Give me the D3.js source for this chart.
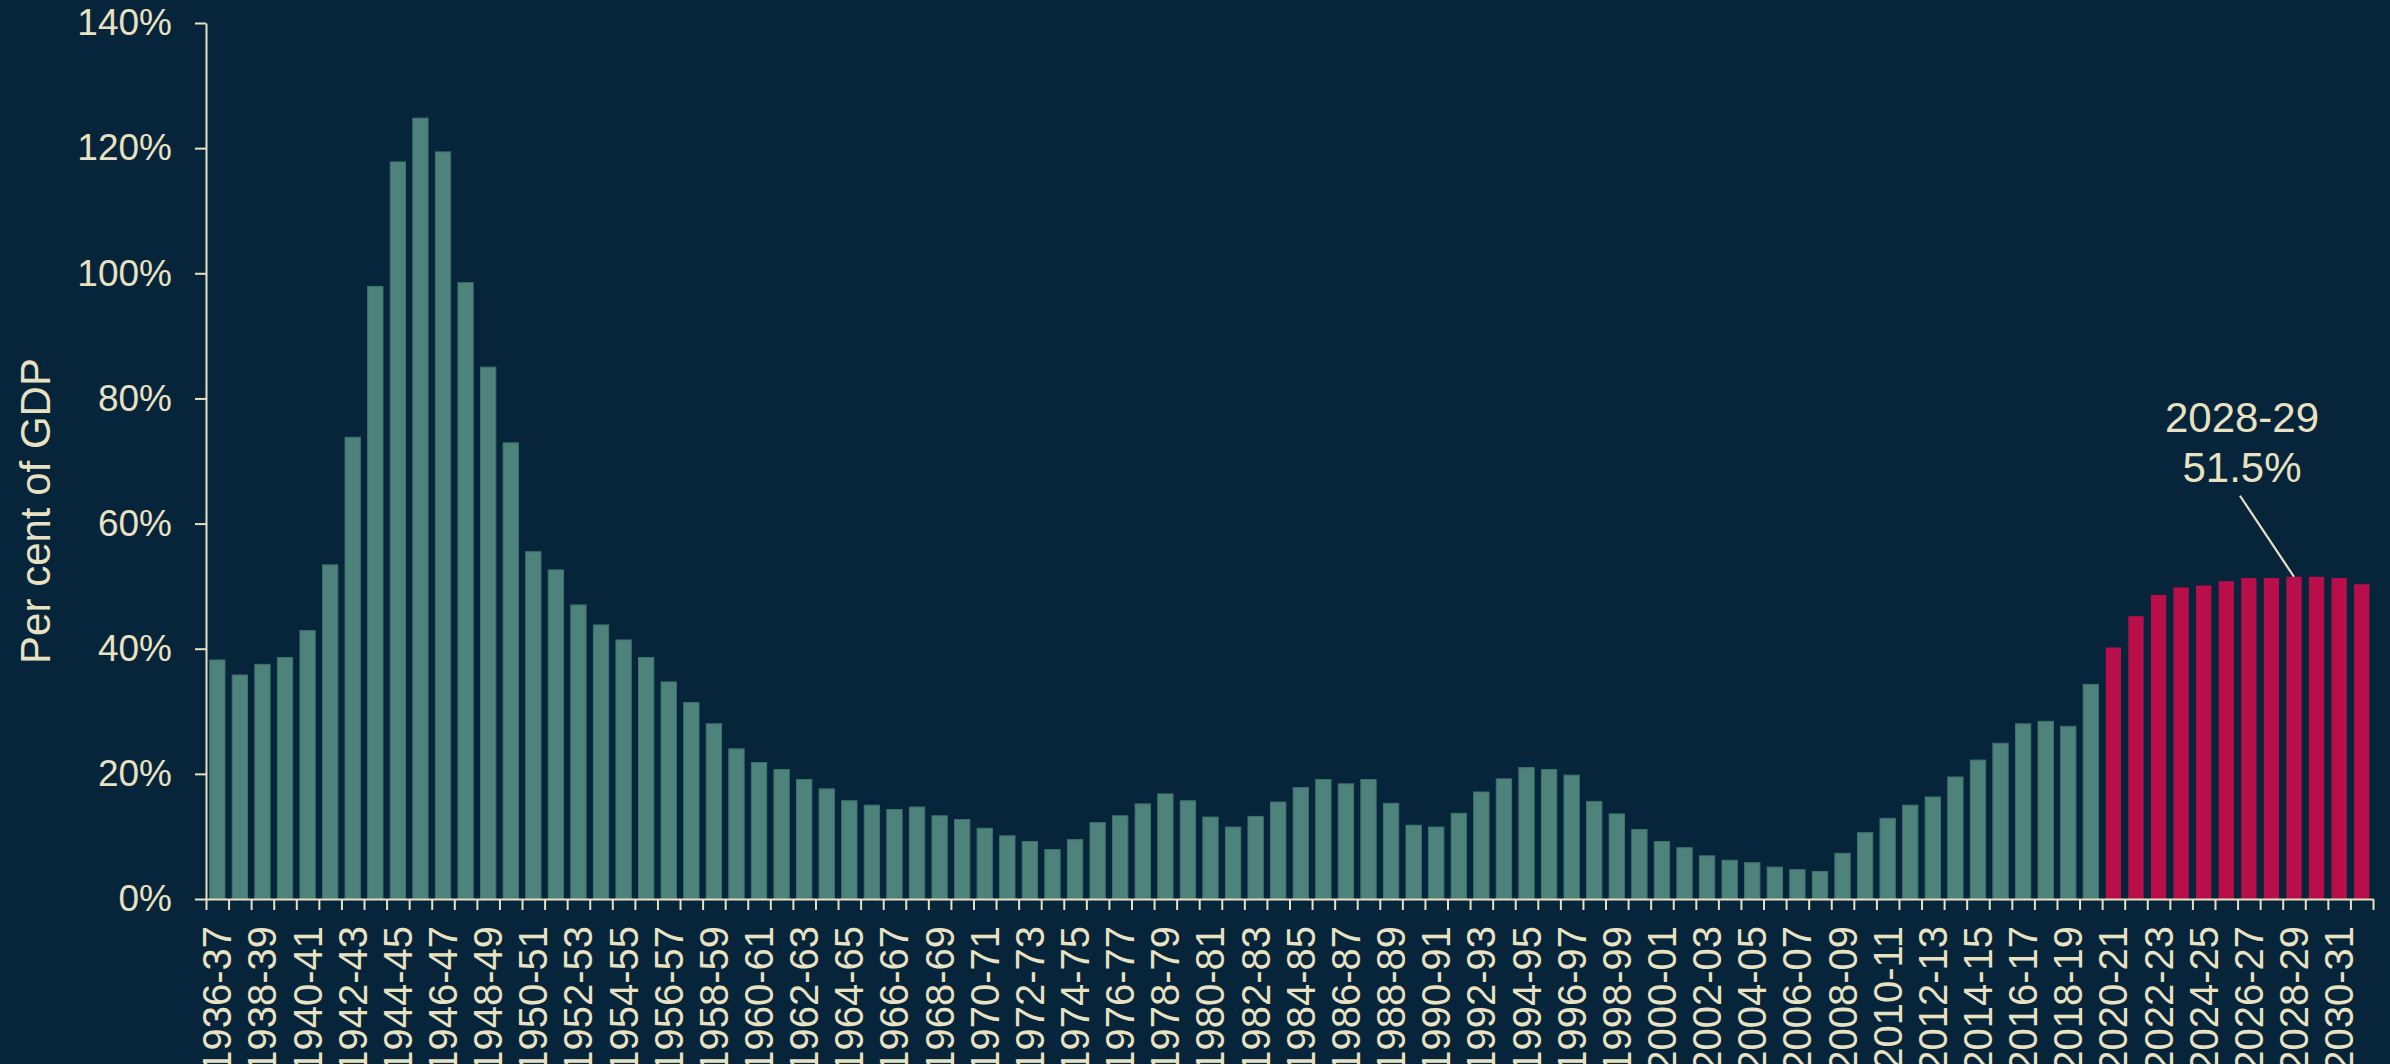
<!DOCTYPE html>
<meta charset="utf-8">
<style>

body { margin: 0; background: #06243a; }

svg { display: block; font-family: "Liberation Sans", Arial, sans-serif; }

.axis path,
.axis line {
    fill: none;
    stroke: #e8e1c2;
    stroke-width: 2;
}

.axis text { fill: #e8e1c2; }

</style>
<body>

<script src="https://d3js.org/d3.v7.min.js"></script>

<script>

// Fiscal years on the x axis
var years = [
    "1936-37","1937-38","1938-39","1939-40","1940-41","1941-42","1942-43","1943-44",
    "1944-45","1945-46","1946-47","1947-48","1948-49","1949-50","1950-51","1951-52",
    "1952-53","1953-54","1954-55","1955-56","1956-57","1957-58","1958-59","1959-60",
    "1960-61","1961-62","1962-63","1963-64","1964-65","1965-66","1966-67","1967-68",
    "1968-69","1969-70","1970-71","1971-72","1972-73","1973-74","1974-75","1975-76",
    "1976-77","1977-78","1978-79","1979-80","1980-81","1981-82","1982-83","1983-84",
    "1984-85","1985-86","1986-87","1987-88","1988-89","1989-90","1990-91","1991-92",
    "1992-93","1993-94","1994-95","1995-96","1996-97","1997-98","1998-99","1999-00",
    "2000-01","2001-02","2002-03","2003-04","2004-05","2005-06","2006-07","2007-08",
    "2008-09","2009-10","2010-11","2011-12","2012-13","2013-14","2014-15","2015-16",
    "2016-17","2017-18","2018-19","2019-20","2020-21","2021-22","2022-23","2023-24",
    "2024-25","2025-26","2026-27","2027-28","2028-29","2029-30","2030-31","2031-32"
];

// Per cent of GDP, outturn (1936-37 to 2019-20)
var outturn = [
    38.2, 35.8, 37.5, 38.6, 42.9, 53.4, 73.8, 97.9, 117.8, 124.8, 119.4, 98.5,
    85.0, 72.9, 55.5, 52.6, 47.0, 43.8, 41.4, 38.6, 34.7, 31.4, 28.0, 24.0,
    21.8, 20.7, 19.1, 17.6, 15.7, 15.0, 14.3, 14.7, 13.3, 12.7, 11.3, 10.1,
    9.2, 7.9, 9.5, 12.2, 13.3, 15.2, 16.8, 15.7, 13.1, 11.5, 13.2, 15.5,
    17.8, 19.1, 18.4, 19.1, 15.3, 11.8, 11.5, 13.7, 17.1, 19.2, 21.0, 20.7,
    19.8, 15.6, 13.6, 11.1, 9.2, 8.2, 6.9, 6.2, 5.8, 5.1, 4.7, 4.4,
    7.3, 10.6, 12.9, 15.0, 16.3, 19.5, 22.2, 24.9, 28.0, 28.4, 27.6, 34.3
];

// Per cent of GDP, projection (2020-21 to 2031-32)
var projection = [40.2, 45.2, 48.6, 49.8, 50.1, 50.8, 51.3, 51.3, 51.5, 51.5, 51.3, 50.3];

var yTicks = [0, 20, 40, 60, 80, 100, 120, 140];

var callout = { year: "2028-29", label: "51.5%" };

var data = years.map(function(y, i) {
    var proj = i >= outturn.length;
    return { year: y, value: proj ? projection[i - outturn.length] : outturn[i], proj: proj };
});

var W = 2390, H = 1064;
var plotLeft = 206, plotRight = 2373, plotTop = 23, plotBottom = 899;

var svg = d3.select("body").append("svg")
    .attr("width", W)
    .attr("height", H);

svg.append("rect")
    .attr("width", W)
    .attr("height", H)
    .attr("fill", "#06243a");

var x = d3.scaleBand()
    .domain(years)
    .range([plotLeft, plotRight])
    .paddingInner(0.32)
    .paddingOuter(0.16);

// boundaries between categories, for the little ticks
var xEdge = d3.scaleLinear().domain([0, years.length]).range([plotLeft, plotRight]);

var y = d3.scaleLinear().domain([0, 140]).range([plotBottom, plotTop]);

// bars
svg.selectAll(".bar")
    .data(data)
  .enter().append("rect")
    .attr("class", "bar")
    .attr("x", function(d) { return x(d.year); })
    .attr("width", x.bandwidth())
    .attr("y", function(d) { return y(d.value); })
    .attr("height", function(d) { return y(0) - y(d.value); })
    .attr("fill", function(d) { return d.proj ? "#b80e4a" : "#4d837a"; })
    .attr("stroke", function(d) { return d.proj ? "none" : "#3e726c"; })
    .attr("stroke-width", 1);

// y axis
svg.append("g")
    .attr("class", "axis")
    .attr("transform", "translate(" + plotLeft + ",0)")
    .call(d3.axisLeft(y)
        .tickValues(yTicks)
        .tickSize(11)
        .tickSizeOuter(0)
        .tickPadding(23)
        .tickFormat(function(d) { return d + "%"; }))
    .selectAll("text")
    .style("font-size", "37px");

// x axis line with category boundary ticks
svg.append("g")
    .attr("class", "axis")
    .attr("transform", "translate(0," + plotBottom + ")")
    .call(d3.axisBottom(xEdge)
        .tickValues(d3.range(years.length + 1))
        .tickSize(11)
        .tickSizeOuter(0)
        .tickFormat(""));

// x labels, every other year
var xLab = svg.append("g")
    .attr("class", "axis")
    .attr("transform", "translate(0," + plotBottom + ")")
    .call(d3.axisBottom(x)
        .tickValues(years.filter(function(d, i) { return i % 2 === 0; }))
        .tickSize(0));

xLab.select(".domain").remove();

xLab.selectAll("text")
    .style("font-size", "40px")
    .attr("transform", "rotate(-90)")
    .attr("text-anchor", "end")
    .attr("x", -27)
    .attr("y", 0)
    .attr("dy", "0.35em");

// y axis title
svg.append("text")
    .attr("transform", "translate(50,511) rotate(-90)")
    .attr("text-anchor", "middle")
    .attr("fill", "#e8e1c2")
    .style("font-size", "42px")
    .text("Per cent of GDP");

// call-out for the peak projection year
var cv = data.filter(function(d) { return d.year === callout.year; })[0];
var cx = x(cv.year) + x.bandwidth() / 2,
    cy = y(cv.value);

svg.append("line")
    .attr("x1", cx - 54)
    .attr("y1", cy - 81)
    .attr("x2", cx)
    .attr("y2", cy)
    .attr("stroke", "#e8e1c2")
    .attr("stroke-width", 2.2);

svg.append("text")
    .attr("x", cx - 52)
    .attr("y", cy - 145)
    .attr("text-anchor", "middle")
    .attr("fill", "#e8e1c2")
    .style("font-size", "42px")
    .text(callout.year);

svg.append("text")
    .attr("x", cx - 52)
    .attr("y", cy - 95)
    .attr("text-anchor", "middle")
    .attr("fill", "#e8e1c2")
    .style("font-size", "42px")
    .text(callout.label);

</script>
</body>
